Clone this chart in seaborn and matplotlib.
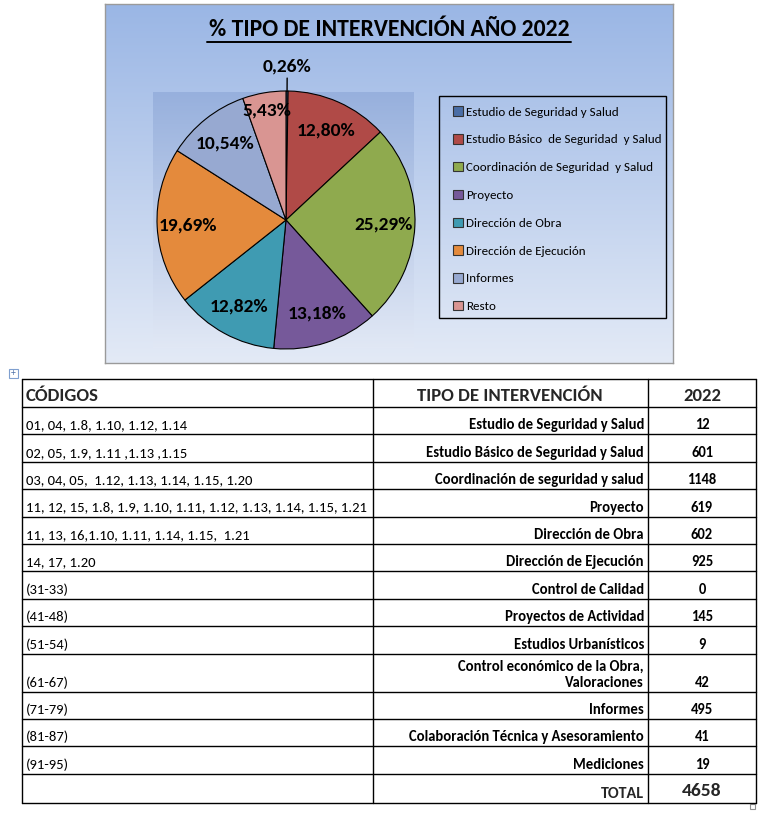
import numpy as np
import matplotlib
matplotlib.use("Agg")
import matplotlib.pyplot as plt
import seaborn as sns
from matplotlib.patches import Rectangle
from matplotlib.lines import Line2D

# ---------------- data ----------------
pie_labels = ["Estudio de Seguridad y Salud", "Estudio Básico  de Seguridad  y Salud",
              "Coordinación de Seguridad  y Salud", "Proyecto", "Dirección de Obra",
              "Dirección de Ejecución", "Informes", "Resto"]
pie_pcts = [0.26, 12.80, 25.29, 13.18, 12.82, 19.69, 10.54, 5.43]
pie_colors = ["#4A6EA6", "#B04A47", "#8FAA4E", "#76599A", "#3F9BB2", "#E48A3C", "#97A9D1", "#D99592"]

codes = ["01, 04, 1.8, 1.10, 1.12, 1.14",
         "02, 05, 1.9, 1.11 ,1.13 ,1.15",
         "03, 04, 05,  1.12, 1.13, 1.14, 1.15, 1.20",
         "11, 12, 15, 1.8, 1.9, 1.10, 1.11, 1.12, 1.13, 1.14, 1.15, 1.21",
         "11, 13, 16,1.10, 1.11, 1.14, 1.15,  1.21",
         "14, 17, 1.20",
         "(31-33)", "(41-48)", "(51-54)", "(61-67)", "(71-79)", "(81-87)", "(91-95)"]
tipos = ["Estudio de Seguridad y Salud",
         "Estudio Básico de Seguridad y Salud",
         "Coordinación de seguridad y salud",
         "Proyecto",
         "Dirección de Obra",
         "Dirección de Ejecución",
         "Control de Calidad",
         "Proyectos de Actividad",
         "Estudios Urbanísticos",
         "Control económico de la Obra,\nValoraciones",
         "Informes",
         "Colaboración Técnica y Asesoramiento",
         "Mediciones"]
values = [12, 601, 1148, 619, 602, 925, 0, 145, 9, 42, 495, 41, 19]
headers = ["CÓDIGOS", "TIPO DE INTERVENCIÓN", "2022"]
total_label = "TOTAL"
total_value = 4658
title = "% TIPO DE INTERVENCIÓN AÑO 2022"

# ---------------- setup ----------------
sns.set_theme(style="white")
FONT = ["Carlito", "DejaVu Sans"]
plt.rcParams["font.family"] = FONT

W, H = 771, 814
fig = plt.figure(figsize=(W / 100, H / 100), dpi=100)
fig.patch.set_facecolor("white")

def rect(x, y, w, h):
    return [x / W, 1 - (y + h) / H, w / W, h / H]

def grad(ax, top, bottom):
    c1 = np.array(matplotlib.colors.to_rgb(top))
    c2 = np.array(matplotlib.colors.to_rgb(bottom))
    t = np.linspace(0, 1, 256)[:, None]
    img = (c1 * (1 - t) + c2 * t)[:, None, :]
    ax.imshow(img, aspect="auto", extent=[0, 1, 0, 1], origin="upper")
    ax.set_xlim(0, 1); ax.set_ylim(0, 1)
    ax.set_xticks([]); ax.set_yticks([])

# chart background
ax_bg = fig.add_axes(rect(105, 4, 568, 359))
grad(ax_bg, "#9AB6E5", "#E3EAF6")
for s in ax_bg.spines.values():
    s.set_color("#9a9a9a"); s.set_linewidth(1)

# plot area
ax_pa = fig.add_axes(rect(153, 92, 261, 256))
grad(ax_pa, "#97B0DD", "#E1E8F5")
for s in ax_pa.spines.values():
    s.set_visible(False)

# overlay axes in pixel coords
ov = fig.add_axes([0, 0, 1, 1])
ov.set_xlim(0, W); ov.set_ylim(H, 0)
ov.axis("off")
ov.patch.set_alpha(0)

# title
ov.text(389, 29, title, ha="center", va="center", fontsize=17, fontweight="bold", color="black")
ov.add_line(Line2D([207, 571], [42, 42], color="black", lw=1.4))

# pie
R = 129
cx, cy = 286, 220
ax_p = fig.add_axes(rect(cx - R, cy - R, 2 * R, 2 * R))
ax_p.patch.set_alpha(0)
wedges, _ = ax_p.pie(pie_pcts, colors=pie_colors, startangle=90, counterclock=False,
                     radius=1.0, wedgeprops=dict(edgecolor="black", linewidth=0.8))
ax_p.set_xlim(-1, 1); ax_p.set_ylim(-1, 1)
ax_p.set_aspect("equal")
ax_p.axis("off")

dist = {0: 1.19, 7: 0.86}
for i, (w, p) in enumerate(zip(wedges, pie_pcts)):
    mid = np.deg2rad((w.theta1 + w.theta2) / 2)
    d = dist.get(i, 0.76)
    x, y = d * np.cos(mid), d * np.sin(mid)
    txt = f"{p:.2f}%".replace(".", ",")
    ax_p.text(x, y, txt, ha="center", va="center", fontsize=14, fontweight="bold", color="black")
    if i == 0:
        ax_p.plot([np.cos(mid) * 1.1, np.cos(mid) * 1.0], [1.1, 1.0], color="black", lw=1,
                  clip_on=False)

# legend
ov.add_patch(Rectangle((439, 96), 227, 222, fill=False, edgecolor="black", lw=1))
leg = ax_p.legend(wedges, pie_labels, loc="upper left",
                  bbox_to_anchor=(443 / W, 1 - 96 / H), bbox_transform=fig.transFigure,
                  frameon=False, fontsize=9.4, handlelength=0.72, handleheight=0.72,
                  handletextpad=0.25, labelspacing=1.27, borderpad=0.3)
for t in leg.get_texts():
    t.set_color("black")
for h in leg.legend_handles:
    h.set_edgecolor("#333333")
    h.set_linewidth(0.8)

# ---------------- table ----------------
x0, x1, x2, x3 = 22, 373, 648, 756
y = 379
rows_y = [y]
y += 28
rows_y.append(y)
row_hs = [38 if "\n" in t else 27.4 for t in tipos]
for h in row_hs:
    y += h
    rows_y.append(y)
y += 29
rows_y.append(y)

for yy in rows_y:
    ov.add_line(Line2D([x0, x3], [yy, yy], color="black", lw=1))
for xx in (x0, x1, x2, x3):
    ov.add_line(Line2D([xx, xx], [rows_y[0], rows_y[-1]], color="black", lw=1))

# header
hy = rows_y[1] - 6
ov.text(x0 + 4, hy, headers[0], ha="left", va="baseline", fontsize=13.5, fontweight="bold")
ov.text(510, hy, headers[1], ha="center", va="baseline", fontsize=13.5, fontweight="bold")
ov.text((x2 + x3) / 2, hy, headers[2], ha="center", va="baseline", fontsize=13.5, fontweight="bold")

for i, (c, t, v) in enumerate(zip(codes, tipos, values)):
    bot = rows_y[i + 2]
    ov.text(x0 + 4, bot - 5, c, ha="left", va="baseline", fontsize=10.5, color="black")
    ov.text(x2 - 4, bot - 5, t, ha="right", va="baseline", fontsize=10.5, fontweight="bold",
            color="black", linespacing=1.2, multialignment="right")
    ov.text((x2 + x3) / 2, bot - 5, str(v), ha="center", va="baseline", fontsize=10.5,
            fontweight="bold", color="black")

bot = rows_y[-1]
ov.text(x2 - 4, bot - 5, total_label, ha="right", va="baseline", fontsize=11.5, fontweight="heavy")
ov.text((x2 + x3) / 2, bot - 7, str(total_value), ha="center", va="baseline", fontsize=14,
        fontweight="bold")

# small decorations
ov.add_patch(Rectangle((9, 369), 9, 9, fill=True, facecolor="white", edgecolor="#7f9fcf", lw=0.8))
ov.text(13.5, 373.5, "+", ha="center", va="center", fontsize=7, color="#4a6ea6")
ov.add_patch(Rectangle((750, 804), 5, 5, fill=False, edgecolor="#909090", lw=0.8))

fig.savefig("out.png", dpi=100, facecolor="white")
